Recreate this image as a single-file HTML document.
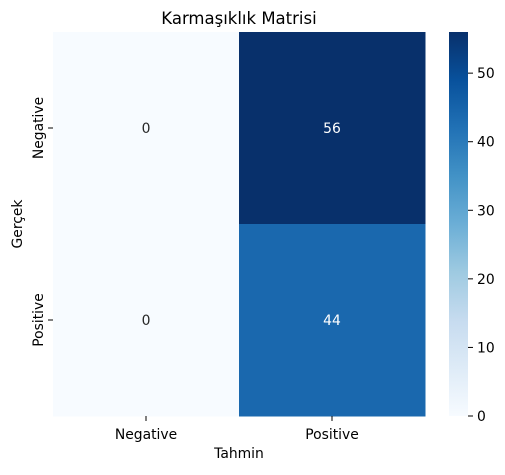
<!DOCTYPE html>
<html><head><meta charset="utf-8"><style>
body{margin:0;background:#fff;font-family:"Liberation Sans","DejaVu Sans",sans-serif}
</style></head><body>
<svg id="c" width="505" height="470" xmlns="http://www.w3.org/2000/svg" font-family="DejaVu Sans, Liberation Sans, sans-serif">
<defs><linearGradient id="g" x1="0" y1="1" x2="0" y2="0">
<stop offset="0" stop-color="#f7fbff"/><stop offset="0.125" stop-color="#deebf7"/><stop offset="0.25" stop-color="#c6dbef"/><stop offset="0.375" stop-color="#9ecae1"/><stop offset="0.5" stop-color="#6baed6"/><stop offset="0.625" stop-color="#4292c6"/><stop offset="0.75" stop-color="#2171b5"/><stop offset="0.875" stop-color="#08519c"/><stop offset="1" stop-color="#08306b"/>
</linearGradient></defs>
<text x="239" y="24" text-anchor="middle" font-size="16.5">Karmaşıklık Matrisi</text>
<g id="cells"></g>
<rect x="449" y="32" width="19" height="384" fill="url(#g)"/>
<g id="cb"></g>
<text x="239" y="458" text-anchor="middle" font-size="13.9">Tahmin</text>
<text transform="translate(22,224) rotate(-90)" text-anchor="middle" font-size="13.9">Gerçek</text>
</svg>
<script>
const xCats=["Negative","Positive"];
const yCats=["Negative","Positive"];
const values=[[0,56],[0,44]];
const cbTicks=[0,10,20,30,40,50];
const vmin=0,vmax=56;
const L=53,T=32,W=372,H=384;
const stops=["#f7fbff","#deebf7","#c6dbef","#9ecae1","#6baed6","#4292c6","#2171b5","#08519c","#08306b"];
function hex(h){return [1,3,5].map(i=>parseInt(h.substr(i,2),16));}
function color(v){let t=(v-vmin)/(vmax-vmin)*(stops.length-1);let i=Math.min(Math.floor(t),stops.length-2);let f=t-i;let a=hex(stops[i]),b=hex(stops[i+1]);return "rgb("+a.map((x,k)=>Math.round(x+(b[k]-x)*f)).join(",")+")";}
const NS="http://www.w3.org/2000/svg";
const cells=document.getElementById("cells"),cb=document.getElementById("cb"),svg=document.getElementById("c");
const cw=W/xCats.length,ch=H/yCats.length;
function mk(tag,attrs,parent){const e=document.createElementNS(NS,tag);for(const k in attrs)e.setAttribute(k,attrs[k]);parent.appendChild(e);return e;}
values.forEach((row,r)=>row.forEach((v,c)=>{
 const x=L+c*cw,y=T+r*ch;
 const rc=mk("rect",{x:x,y:y,width:cw+0.5,height:ch+0.5,fill:color(v)},cells);
 
 
 const t=mk("text",{x:x+cw/2,y:y+ch/2+5,"text-anchor":"middle","font-size":"13.9",fill:(v-vmin)/(vmax-vmin)>0.45?"#fff":"#262626"},cells);
 t.textContent=v;
 
 
}));
xCats.forEach((c,i)=>{
 const x=L+(i+0.5)*cw;
 mk("line",{x1:x,x2:x,y1:T+H,y2:T+H+5,stroke:"#000"},svg);
 const t=mk("text",{x:x,y:T+H+23,"text-anchor":"middle","font-size":"13.9"},svg);
 t.textContent=c;
 
 
});
yCats.forEach((c,i)=>{
 const y=T+(i+0.5)*ch;
 mk("line",{x1:L-5,x2:L,y1:y,y2:y,stroke:"#000"},svg);
 const t=mk("text",{transform:"translate("+(L-10)+","+y+") rotate(-90)","text-anchor":"middle","font-size":"13.9"},svg);
 t.textContent=c;
 
 
});
cbTicks.forEach(v=>{
 const y=T+H-(v-vmin)/(vmax-vmin)*H;
 mk("line",{x1:468,x2:473,y1:y,y2:y,stroke:"#000"},cb);
 const t=mk("text",{x:477,y:y+5,"font-size":"13.9"},cb);
 t.textContent=v;
 
 
});
</script>
</body></html>
